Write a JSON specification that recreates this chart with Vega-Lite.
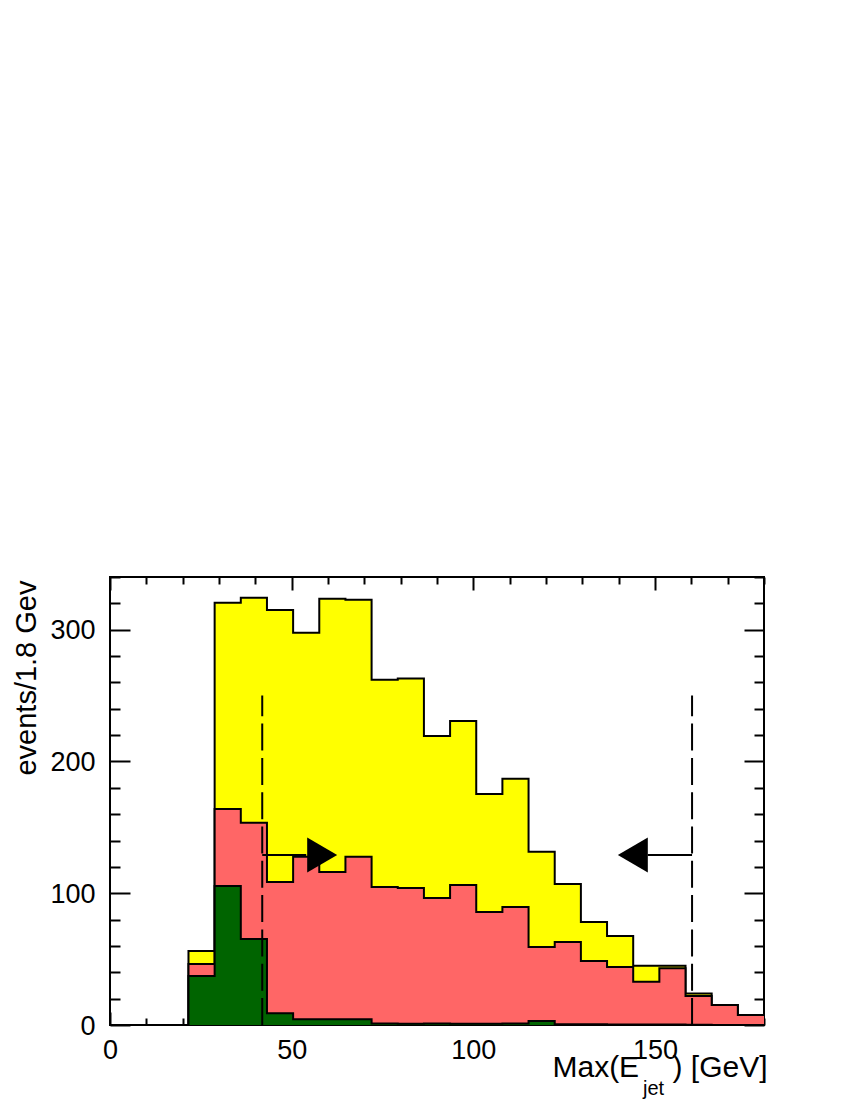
{
  "$schema": "https://vega.github.io/schema/vega-lite/v6.json",
  "width": 654,
  "height": 448,
  "autosize": "none",
  "padding": {"left": 110, "top": 577, "right": 86, "bottom": 75},
  "background": "white",
  "config": {
    "view": {"stroke": "black", "strokeWidth": 2},
    "font": "Liberation Sans",
    "axis": {"grid": false, "domain": false, "tickColor": "black", "tickWidth": 2, "labelColor": "black", "titleColor": "black", "titleFontWeight": "normal", "labelOverlap": false, "labelFlush": false}
  },
  "datasets": {
    "h": [
      {"e": 0, "yellow": 0, "red": 0, "green": 0},
      {"e": 7.2, "yellow": 0, "red": 0, "green": 0},
      {"e": 14.4, "yellow": 0, "red": 0, "green": 0},
      {"e": 21.6, "yellow": 56.2, "red": 46.3, "green": 37.2},
      {"e": 28.8, "yellow": 320.4, "red": 164, "green": 105.5},
      {"e": 36, "yellow": 324.2, "red": 153.4, "green": 65.3},
      {"e": 43.2, "yellow": 315, "red": 108.6, "green": 8.9},
      {"e": 50.4, "yellow": 297.6, "red": 127.6, "green": 4.3},
      {"e": 57.6, "yellow": 323.5, "red": 116.2, "green": 4.3},
      {"e": 64.8, "yellow": 322.7, "red": 127.6, "green": 4.3},
      {"e": 72, "yellow": 262, "red": 104.8, "green": 1.2},
      {"e": 79.2, "yellow": 263, "red": 104, "green": 1},
      {"e": 86.4, "yellow": 219.4, "red": 96.4, "green": 1.2},
      {"e": 93.6, "yellow": 230.8, "red": 106.3, "green": 1},
      {"e": 100.8, "yellow": 175.4, "red": 85.8, "green": 1},
      {"e": 108, "yellow": 186.8, "red": 89.6, "green": 1.2},
      {"e": 115.2, "yellow": 131.4, "red": 59.2, "green": 3},
      {"e": 122.4, "yellow": 107, "red": 63, "green": 0.5},
      {"e": 129.6, "yellow": 78.2, "red": 48.6, "green": 0.5},
      {"e": 136.8, "yellow": 67.6, "red": 44, "green": 0.3},
      {"e": 144, "yellow": 45, "red": 32.9, "green": 0.3},
      {"e": 151.2, "yellow": 45, "red": 43, "green": 0.3},
      {"e": 158.4, "yellow": 24, "red": 22, "green": 0.2},
      {"e": 165.6, "yellow": 15.2, "red": 15.2, "green": 0},
      {"e": 172.8, "yellow": 7.6, "red": 7.6, "green": 0},
      {"e": 180, "yellow": 7.6, "red": 7.6, "green": 0}
    ],
    "cuts": [
      {"e": 41.9, "lo": 0, "hi": 250},
      {"e": 160.2, "lo": 0, "hi": 250}
    ],
    "shafts": [
      {"a": 41.9, "b": 54, "v": 129},
      {"a": 148, "b": 160.2, "v": 129}
    ],
    "heads": [
      {"e": 58.4, "v": 129, "dir": "right"},
      {"e": 143.9, "v": 129, "dir": "left"}
    ],
    "sub": [
      {"e": 149.6, "v": -53, "t": "jet"}
    ]
  },
  "resolve": {"axis": {"x": "independent", "y": "independent"}},
  "layer": [
    {
      "data": {"name": "h"},
      "mark": {"type": "area", "interpolate": "step-after", "color": "#ffff00"},
      "encoding": {
        "x": {"field": "e", "type": "quantitative", "scale": {"domain": [0, 180], "nice": false, "zero": false},
          "axis": {"orient": "bottom", "values": [0,10,20,30,40,50,60,70,80,90,100,110,120,130,140,150,160,170,180],
            "tickSize": {"condition": {"test": "datum.value % 50 === 0", "value": -13}, "value": -7},
            "labelExpr": "datum.value % 50 === 0 ? datum.label : ''",
            "labelFontSize": 27, "labelPadding": 25,
            "title": "Max(E\u00a0\u00a0\u00a0\u00a0) [GeV]", "titleFontSize": 30, "titleAnchor": "end", "titleAlign": "right",
            "titleBaseline": "alphabetic", "titleX": 657, "titleY": 51}},
        "y": {"field": "yellow", "type": "quantitative", "scale": {"domain": [0, 340], "nice": false},
          "axis": {"orient": "left", "values": [0,20,40,60,80,100,120,140,160,180,200,220,240,260,280,300,320,340],
            "tickSize": {"condition": {"test": "datum.value % 100 === 0", "value": -20}, "value": -10},
            "labelExpr": "datum.value % 100 === 0 ? datum.label : ''",
            "labelFontSize": 27, "labelPadding": 35, "labelBaseline": "middle", "labelOffset": 1,
            "title": "events/1.8 Gev", "titleFontSize": 29, "titleAngle": -90, "titleAnchor": "end", "titleAlign": "right",
            "titleBaseline": "alphabetic", "titleX": -75, "titleY": 3}}
      }
    },
    {
      "data": {"name": "h"},
      "mark": {"type": "line", "interpolate": "step-after", "color": "black", "strokeWidth": 2},
      "encoding": {
        "x": {"field": "e", "type": "quantitative",
          "axis": {"orient": "top", "values": [0,10,20,30,40,50,60,70,80,90,100,110,120,130,140,150,160,170,180],
            "tickSize": {"condition": {"test": "datum.value % 50 === 0", "value": -13}, "value": -7},
            "labels": false, "title": null}},
        "y": {"field": "yellow", "type": "quantitative",
          "axis": {"orient": "right", "values": [0,20,40,60,80,100,120,140,160,180,200,220,240,260,280,300,320,340],
            "tickSize": {"condition": {"test": "datum.value % 100 === 0", "value": -20}, "value": -10},
            "labels": false, "title": null}}
      }
    },
    {
      "data": {"name": "h"},
      "mark": {"type": "area", "interpolate": "step-after", "color": "#ff6666"},
      "encoding": {
        "x": {"field": "e", "type": "quantitative", "axis": null},
        "y": {"field": "red", "type": "quantitative", "axis": null}
      }
    },
    {
      "data": {"name": "h"},
      "mark": {"type": "line", "interpolate": "step-after", "color": "black", "strokeWidth": 2},
      "encoding": {
        "x": {"field": "e", "type": "quantitative", "axis": null},
        "y": {"field": "red", "type": "quantitative", "axis": null}
      }
    },
    {
      "data": {"name": "h"},
      "mark": {"type": "area", "interpolate": "step-after", "color": "#006400"},
      "encoding": {
        "x": {"field": "e", "type": "quantitative", "axis": null},
        "y": {"field": "green", "type": "quantitative", "axis": null}
      }
    },
    {
      "data": {"name": "h"},
      "mark": {"type": "line", "interpolate": "step-after", "color": "black", "strokeWidth": 2},
      "encoding": {
        "x": {"field": "e", "type": "quantitative", "axis": null},
        "y": {"field": "green", "type": "quantitative", "axis": null}
      }
    },
    {
      "data": {"name": "cuts"},
      "mark": {"type": "rule", "color": "black", "strokeWidth": 2, "strokeDash": [27, 7.3]},
      "encoding": {
        "x": {"field": "e", "type": "quantitative", "axis": null},
        "y": {"field": "lo", "type": "quantitative", "axis": null},
        "y2": {"field": "hi"}
      }
    },
    {
      "data": {"name": "shafts"},
      "mark": {"type": "rule", "color": "black", "strokeWidth": 2},
      "encoding": {
        "x": {"field": "a", "type": "quantitative", "axis": null},
        "x2": {"field": "b"},
        "y": {"field": "v", "type": "quantitative", "axis": null}
      }
    },
    {
      "data": {"name": "heads"},
      "mark": {"type": "point", "filled": true, "color": "black", "opacity": 1, "size": 1225},
      "encoding": {
        "x": {"field": "e", "type": "quantitative", "axis": null},
        "y": {"field": "v", "type": "quantitative", "axis": null},
        "shape": {"field": "dir", "type": "nominal", "legend": null,
          "scale": {"domain": ["right", "left"], "range": ["M-0.857,-1L0.857,0L-0.857,1Z", "M0.857,-1L-0.857,0L0.857,1Z"]}}
      }
    },
    {
      "data": {"name": "sub"},
      "mark": {"type": "text", "fontSize": 20, "font": "Liberation Sans", "color": "black", "align": "center", "baseline": "alphabetic"},
      "encoding": {
        "x": {"field": "e", "type": "quantitative", "axis": null},
        "y": {"field": "v", "type": "quantitative", "axis": null},
        "text": {"field": "t"}
      }
    }
  ]
}
